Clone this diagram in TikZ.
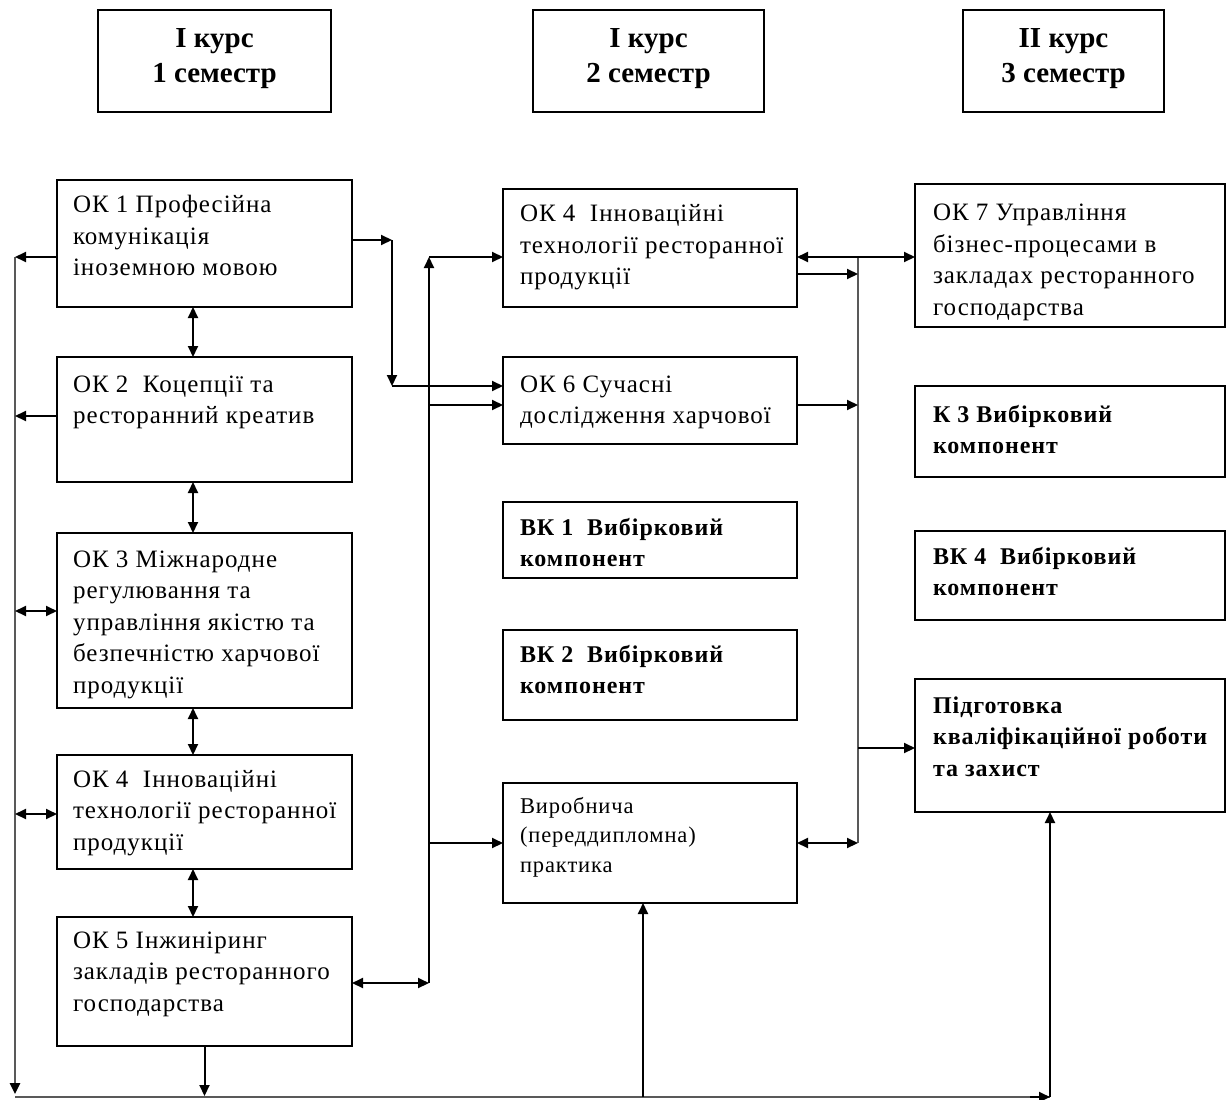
\documentclass[tikz,border=0pt]{standalone}
\usepackage{fontspec}
\setmainfont{Liberation Serif}[LetterSpace=4]
\usetikzlibrary{arrows.meta,calc}
\newcommand\bodyfont{\fontsize{25}{31.5}\selectfont}
\newcommand\boldfont{\fontsize{24}{31.5}\selectfont\bfseries}
\newcommand\headfont{\fontsize{29}{35}\selectfont\bfseries\addfontfeature{LetterSpace=0}}
\newcommand\mkbox[9]{%
  \node[bx, inner xsep=#6pt] (#1) at (#2,#3)
  {\parbox[t][\dimexpr #5pt-#3pt\relax][t]{\dimexpr #4pt-#2pt-#6pt-#6pt\relax}{\raggedright\rightskip=-25pt plus 1fil #8\vspace*{\dimexpr #7pt-\ht\strutbox\relax}\strut #9}};}
\tikzset{
  bx/.style={draw, line width=2pt, inner ysep=0pt, outer sep=0pt, anchor=north west, font=\bodyfont},
  tip/.tip={Triangle[length=11pt,width=10pt,color=black]},
  arr/.style={line width=2pt, -tip},
  darr/.style={line width=2pt, tip-tip},
  gbus/.style={line width=2.6pt, draw=black!65},
}
\begin{document}
\begin{tikzpicture}[x=1pt,y=-1pt]
\useasboundingbox (0,0) rectangle (1230,1099);
% headers
\mkbox{h1}{98}{10}{331}{112}{8}{38}{\centering\headfont}{І курс\\1 семестр}
\mkbox{h2}{533}{10}{764}{112}{8}{38}{\centering\headfont}{І курс\\2 семестр}
\mkbox{h3}{963}{10}{1164}{112}{8}{38}{\centering\headfont}{ІІ курс\\3 семестр}
% column 1
\mkbox{ok1}{57}{180}{352}{307}{16}{33}{}{ОК 1 Професійна\\комунікація\\іноземною мовою}
\mkbox{ok2}{57}{357}{352}{482}{16}{35}{}{ОК 2\ \ Коцепції та\\ресторанний креатив}
\mkbox{ok3}{57}{533}{352}{708}{16}{34}{}{ОК 3 Міжнародне\\регулювання та\\управління якістю та\\безпечністю харчової\\продукції}
\mkbox{ok4a}{57}{755}{352}{869}{16}{32}{}{ОК 4\ \ Інноваційні\\технології ресторанної\\продукції}
\mkbox{ok5}{57}{917}{352}{1046}{16}{31}{}{ОК 5 Інжиніринг\\закладів ресторанного\\господарства}
% column 2
\mkbox{ok4b}{503}{189}{797}{307}{17}{33}{}{ОК 4\ \ Інноваційні\\технології ресторанної\\продукції}
\mkbox{ok6}{503}{357}{797}{444}{17}{35}{}{ОК 6 Сучасні\\дослідження харчової}
\mkbox{vk1}{503}{502}{797}{578}{17}{33}{\boldfont}{ВК 1\ \ Вибірковий\\компонент}
\mkbox{vk2}{503}{630}{797}{720}{17}{32}{\boldfont}{ВК 2\ \ Вибірковий\\компонент}
\mkbox{vyr}{503}{783}{797}{903}{17}{30}{\fontsize{22.5}{29.5}\selectfont}{Виробнича\\(переддипломна)\\практика}
% column 3
\mkbox{ok7}{915}{184}{1225}{327}{18}{37}{}{ОК 7 Управління\\бізнес-процесами в\\закладах ресторанного\\господарства}
\mkbox{k3}{915}{386}{1225}{477}{18}{36}{\boldfont}{К 3 Вибірковий\\компонент}
\mkbox{vk4}{915}{531}{1225}{620}{18}{33}{\boldfont}{ВК 4\ \ Вибірковий\\компонент}
\mkbox{pid}{915}{679}{1225}{812}{18}{34}{\boldfont}{Підготовка\\кваліфікаційної роботи\\та захист}

% bus coordinates
\coordinate (lbA) at (15,257);
\coordinate (lbB) at (15,416);
\coordinate (lbC) at (15,611);
\coordinate (lbD) at (15,814);
\coordinate (lbE) at (15,1097);
\coordinate (bM) at (643,1097);
\coordinate (bR) at (1050,1097);
\coordinate (vx) at (193,0);
\coordinate (m1) at (392,240);
\coordinate (m2) at (392,386);
\coordinate (bt) at (429,257);
\coordinate (b6) at (429,405);
\coordinate (bv) at (429,843);
\coordinate (bb) at (429,983);
\coordinate (r1) at (858,257);
\coordinate (r2) at (858,274);
\coordinate (r3) at (858,405);
\coordinate (r4) at (858,748);
\coordinate (r5) at (858,843);

% grey buses
\draw[gbus, -tip] (lbA) -- ($(lbE)+(0,-3)$);
\draw[gbus] (lbE) -- (bR);
\draw[gbus] (r1) -- (r5);
% left arrows
\draw[arr] (ok1.west |- lbA) -- (lbA);
\draw[arr] (ok2.west |- lbB) -- (lbB);
\draw[darr] (ok3.west |- lbC) -- (lbC);
\draw[darr] (ok4a.west |- lbD) -- (lbD);
% vertical links column 1
\draw[darr] (ok1.south -| vx) -- (ok2.north -| vx);
\draw[darr] (ok2.south -| vx) -- (ok3.north -| vx);
\draw[darr] (ok3.south -| vx) -- (ok4a.north -| vx);
\draw[darr] (ok4a.south -| vx) -- (ok5.north -| vx);
\draw[arr] (ok5.south) -- ($(ok5.south |- lbE)+(0,-1)$);
% bottom line
\draw[arr] ($(bR)+(-20,0)$) -- (bR);
\draw[arr] (bM) -- (vyr.south -| bM);
\draw[arr] (bR) -- (pid.south -| bR);
% ok1 to ok6
\draw[arr] (ok1.east |- m1) -- (m1);
\draw[arr] (m1) -- (m2);
\draw[arr] (m2) -- (ok6.west |- m2);
% middle bus
\draw[arr] (bb) -- (bt);
\draw[arr] (bt) -- (ok4b.west |- bt);
\draw[arr] (b6) -- (ok6.west |- b6);
\draw[arr] (bv) -- (vyr.west |- bv);
\draw[darr] (ok5.east |- bb) -- (bb);
% right bus
\draw[darr] (ok4b.east |- r1) -- (ok7.west |- r1);
\draw[arr] (ok4b.east |- r2) -- (r2);
\draw[arr] (ok6.east |- r3) -- (r3);
\draw[arr] (r4) -- (pid.west |- r4);
\draw[darr] (vyr.east |- r5) -- (r5);
\end{tikzpicture}
\end{document}
